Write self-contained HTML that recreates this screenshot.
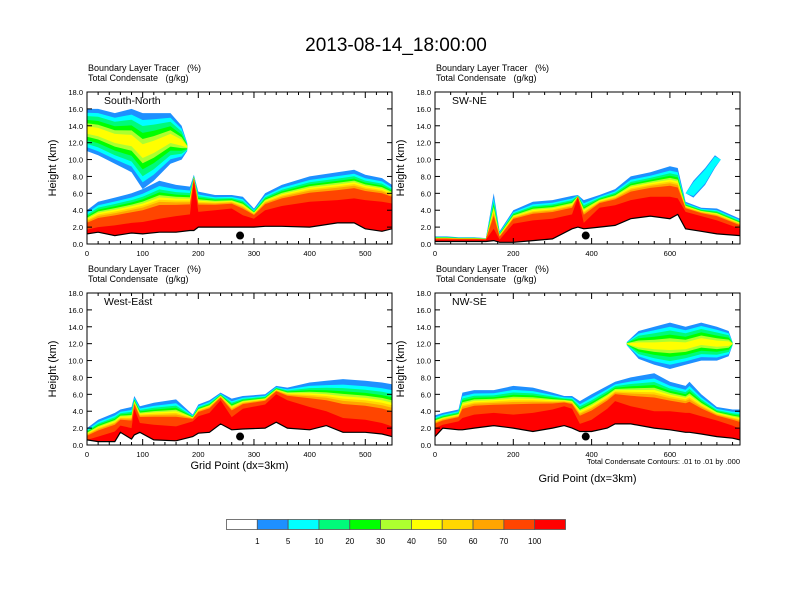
<!DOCTYPE html>
<html><head><meta charset="utf-8"><style>
body{margin:0;background:#fff;}
svg{display:block;font-family:"Liberation Sans",sans-serif;}
svg text{white-space:pre;}
</style></head><body>
<svg id="chart" width="792" height="612" viewBox="0 0 792 612">
<text x="396" y="51" font-size="19" text-anchor="middle">2013-08-14_18:00:00</text>
</svg>
<script>
// ---- data ----
const colorLevels = ["1","5","10","20","30","40","50","60","70","100"];
const p1X = [0,20,50,80,100,130,160,185,192,200,230,260,280,300,320,350,400,450,480,500,530,548];
const p1Terrain = [1.2,1.4,1.0,1.3,1.2,1.4,1.4,1.6,1.6,2.0,2.0,2.0,2.0,2.0,2.1,2.1,2.0,2.5,2.5,1.8,1.5,1.8];
const p1RedTop = [1.7,2.0,2.2,2.5,2.6,3.0,3.3,3.5,7.5,3.8,4.0,4.2,3.4,3.0,4.0,4.5,5.0,5.2,5.4,5.2,5.0,4.8];
const p1BlueTop = [4.0,5.0,5.5,6.0,6.5,7.5,7.0,6.8,8.2,6.2,5.8,5.8,5.6,4.2,6.0,7.0,8.0,8.5,8.8,8.2,7.8,7.0];
const p1AnvilX = [0,20,50,80,100,120,150,170,180];
const p1AnvilBottom = [11.0,10.5,9.5,8.5,6.5,7.5,9.5,10.0,11.0];
const p1AnvilTop = [16.0,16.0,15.5,16.0,15.5,15.5,15.5,14.0,12.0];
const p2X = [0,30,60,100,130,150,165,200,250,300,350,365,380,420,460,500,550,600,620,640,680,720,779];
const p2Terrain = [0.3,0.3,0.3,0.3,0.3,0.4,0.2,0.2,0.4,0.6,1.8,2.0,1.8,2.0,2.2,3.0,3.3,3.0,3.5,1.8,1.5,1.2,1.0];
const p2RedTop = [0.5,0.5,0.5,0.5,0.5,1.8,0.5,2.4,2.8,3.0,3.5,5.5,2.5,4.3,4.6,5.2,5.6,5.6,5.4,3.8,3.3,2.8,1.8];
const p2BlueTop = [0.9,0.9,0.8,0.8,0.7,6.0,1.5,4.0,5.0,5.2,5.7,5.8,5.2,5.8,6.5,8.0,8.5,9.2,9.0,5.0,4.3,4.2,3.0];
const p2AnvilX = [640,660,690,715,730];
const p2AnvilBottom = [6.0,5.5,7.0,9.0,10.0];
const p2AnvilTop = [6.0,7.5,9.0,10.5,10.0];
const p3X = [0,20,50,60,80,85,95,120,160,190,200,220,240,260,280,320,340,360,400,430,460,500,530,548];
const p3Terrain = [0.6,0.4,0.4,1.5,0.7,1.2,1.5,0.6,0.5,1.0,1.4,1.5,2.5,1.8,1.9,2.0,2.7,2.0,1.8,2.3,1.5,1.5,1.3,1.0];
const p3RedTop = [0.6,1.0,1.6,2.3,2.0,4.3,2.6,2.4,2.2,2.8,3.4,3.8,5.3,3.3,4.3,4.8,6.0,5.3,4.5,4.0,3.2,3.0,2.6,2.2];
const p3BlueTop = [2.0,3.0,3.8,4.2,4.5,5.8,4.6,5.0,5.4,3.6,4.8,5.3,6.2,5.5,5.8,6.0,7.0,6.8,7.4,7.6,7.8,7.6,7.4,7.2];
const p4X = [0,20,60,70,100,150,200,250,300,330,350,370,400,440,460,500,560,600,640,650,680,720,760,779];
const p4Terrain = [1.0,2.0,1.8,1.8,2.0,2.3,2.0,1.6,2.0,2.3,2.0,1.6,1.6,2.0,2.5,2.5,2.0,1.8,1.5,1.5,1.3,1.0,0.8,0.6];
const p4RedTop = [2.0,2.4,2.8,3.2,3.6,3.8,3.6,3.8,4.2,4.6,4.3,2.5,3.0,4.3,5.2,4.6,4.0,4.0,3.8,3.8,3.4,2.9,2.3,1.9];
const p4BlueTop = [3.5,3.8,4.2,6.2,6.5,6.5,7.0,6.8,6.2,5.8,5.8,5.2,6.0,7.0,7.5,8.0,8.5,7.5,7.0,7.5,6.0,4.5,4.2,4.2];
const p4AnvilX = [490,520,560,600,640,680,720,750,760];
const p4AnvilBottom = [11.8,10.2,9.5,9.0,9.5,10.0,10.0,10.5,11.8];
const p4AnvilTop = [12.2,13.5,14.0,14.5,14.0,14.5,14.0,13.5,12.2];

// ---- styles ----
const COLORS = ["#ffffff","#1e90ff","#00ffff","#00fa7a","#00ff00","#adff2f","#ffff00","#ffd700","#ffa500","#ff4500","#ff0000"];
const FR = [1.0,0.86,0.77,0.69,0.62,0.56,0.5,0.44,0.36];
const ANV = [1,0.82,0.66,0.48,0.32,0.18];
const NS = "http://www.w3.org/2000/svg";
const svg = document.getElementById('chart');
function mk(tag, attrs, parent){const e=document.createElementNS(NS,tag);for(const k in attrs)e.setAttribute(k,attrs[k]);(parent||svg).appendChild(e);return e;}

function panel(cfg){
  const {L,R,T,B,xmax,xs,terr,red,blue,ax,ab,at,peak,label,xticks,name,titleY,showX,minor} = cfg;
  const g = mk('g',{});
  
  
  const sx = v => L + (R-L)*v/xmax;
  const sy = v => B - (B-T)*v/18;
  const cid = name+'-clip';
  const cp = mk('clipPath',{id:cid},g); mk('rect',{x:L,y:T,width:R-L,height:B-T},cp);
  const plot = mk('g',{'clip-path':'url(#'+cid+')'},g);
  for(let k=0;k<FR.length;k++){
    let pts = xs.map((x,i)=>sx(x)+','+sy(red[i]+(blue[i]-red[i])*FR[k]).toFixed(1));
    for(let i=xs.length-1;i>=0;i--) pts.push(sx(xs[i])+','+sy(terr[i]).toFixed(1));
    const p = mk('polygon',{points:pts.join(' '),fill:COLORS[k+1]},plot);
    
    
  }
  let rp = xs.map((x,i)=>sx(x)+','+sy(red[i]).toFixed(1));
  for(let i=xs.length-1;i>=0;i--) rp.push(sx(xs[i])+','+sy(terr[i]).toFixed(1));
  const rr = mk('polygon',{points:rp.join(' '),fill:COLORS[10]},plot);
  
  
  if(ax){
    for(let k=0;k<peak;k++){
      const s = ANV[k];
      let pts = ax.map((x,i)=>{const m=(ab[i]+at[i])/2;return sx(x)+','+sy(m+(at[i]-m)*s).toFixed(1);});
      for(let i=ax.length-1;i>=0;i--){const m=(ab[i]+at[i])/2;pts.push(sx(ax[i])+','+sy(m-(m-ab[i])*s).toFixed(1));}
      const p = mk('polygon',{points:pts.join(' '),fill:COLORS[k+1]},plot);
      
      
    }
  }
  let tp = xs.map((x,i)=>sx(x)+','+sy(terr[i]).toFixed(1));
  const under = mk('polygon',{points:tp.join(' ')+' '+R+','+B+' '+L+','+B,fill:'#fff'},plot);
  
  
  const tl = mk('polyline',{points:tp.join(' '),fill:'none',stroke:'#000','stroke-width':1.2},plot);
  
  
  const dot = mk('circle',{cx:sx(cfg.dotX),cy:sy(1.0),r:4,fill:'#000'},plot);
  
  
  mk('rect',{x:L,y:T,width:R-L,height:B-T,fill:'none',stroke:'#000','stroke-width':1},g);
  for(let v=0;v<=18;v+=2){
    const y=sy(v);
    mk('line',{x1:L,y1:y,x2:L+5,y2:y,stroke:'#000'},g);
    mk('line',{x1:R,y1:y,x2:R-5,y2:y,stroke:'#000'},g);
    const t=mk('text',{x:L-4,y:y+3,'font-size':7.5,'text-anchor':'end'},g);t.textContent=v.toFixed(1);
    
    
  }
  for(let v=0;v<=xmax;v+=minor){
    const x=sx(v); const maj = v%xticks===0; const h=maj?6:3;
    mk('line',{x1:x,y1:B,x2:x,y2:B-h,stroke:'#000'},g);
    mk('line',{x1:x,y1:T,x2:x,y2:T+h,stroke:'#000'},g);
    if(maj){const t=mk('text',{x:x,y:B+12,'font-size':7.5,'text-anchor':'middle'},g);t.textContent=v;
      
      }
  }
  const yt=mk('text',{x:0,y:0,'font-size':11,'text-anchor':'middle',transform:`translate(${L-31},${(T+B)/2}) rotate(-90)`},g);yt.textContent='Height (km)';
  
  
  const t1=mk('text',{x:L+1,y:titleY,'font-size':9},g);t1.textContent='Boundary Layer Tracer   (%)';
  
  
  const t2=mk('text',{x:L+1,y:titleY+10,'font-size':9},g);t2.textContent='Total Condensate   (g/kg)';
  
  
  const lb=mk('text',{x:L+17,y:T+12,'font-size':10.5},g);lb.textContent=label;
  
  
  if(showX){const xt=mk('text',{x:(L+R)/2,y:showX,'font-size':11,'text-anchor':'middle'},g);xt.textContent='Grid Point (dx=3km)';
    
    }
}
panel({name:'panel-south-north',L:87,R:392,T:92,B:244,xmax:548,xs:p1X,terr:p1Terrain,red:p1RedTop,blue:p1BlueTop,ax:p1AnvilX,ab:p1AnvilBottom,at:p1AnvilTop,peak:6,label:'South-North',xticks:100,minor:20,titleY:71,dotX:275});
panel({name:'panel-sw-ne',L:435,R:740,T:92,B:244,xmax:779,xs:p2X,terr:p2Terrain,red:p2RedTop,blue:p2BlueTop,ax:p2AnvilX,ab:p2AnvilBottom,at:p2AnvilTop,peak:2,label:'SW-NE',xticks:200,minor:40,titleY:71,dotX:385});
panel({name:'panel-west-east',L:87,R:392,T:293,B:445,xmax:548,xs:p3X,terr:p3Terrain,red:p3RedTop,blue:p3BlueTop,label:'West-East',xticks:100,minor:20,titleY:272,dotX:275,showX:469});
panel({name:'panel-nw-se',L:435,R:740,T:293,B:445,xmax:779,xs:p4X,terr:p4Terrain,red:p4RedTop,blue:p4BlueTop,ax:p4AnvilX,ab:p4AnvilBottom,at:p4AnvilTop,peak:6,label:'NW-SE',xticks:200,minor:40,titleY:272,dotX:385,showX:482});
const note=mk('text',{x:740,y:464,'font-size':7.5,'text-anchor':'end'});note.textContent='Total Condensate Contours: .01 to .01 by .000';


const cbL=226.5, cbR=565.5, cbT=519.5, cbB=529.5, w=(cbR-cbL)/COLORS.length;
COLORS.forEach((c,i)=>{
  const r=mk('rect',{x:cbL+i*w,y:cbT,width:w,height:cbB-cbT,fill:c,stroke:'#555','stroke-width':0.8});
  
  
});
colorLevels.forEach((s,i)=>{
  const t=mk('text',{x:cbL+(i+1)*w,y:544,'font-size':8,'text-anchor':'middle'});t.textContent=s;
  
  
});
</script>
</body></html>
